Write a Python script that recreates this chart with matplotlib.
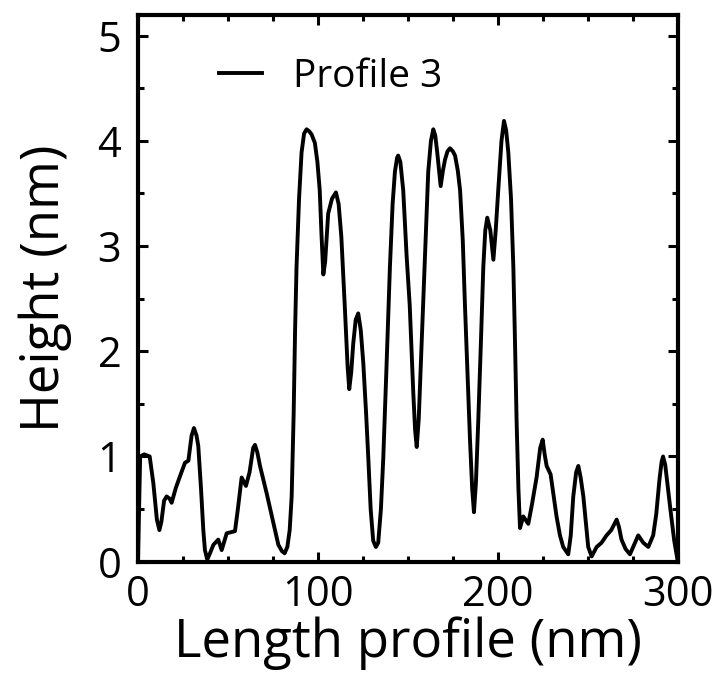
import matplotlib
matplotlib.use("Agg")
import matplotlib.pyplot as plt
from matplotlib.ticker import MultipleLocator

# AFM height profile traced along line 3
length_nm = [0.0, 1.2, 3.5, 6.5, 8.5, 10.5, 11.9, 13.0, 14.5, 15.9, 17.5, 18.7, 21.0,
             23.3, 26.1, 28.0, 29.8, 31.1, 32.5, 33.5, 35.0, 36.3, 37.2, 38.5, 40.0,
             41.9, 44.6, 46.5, 49.3, 53.9, 55.5, 57.6, 60.0, 62.0, 64.0, 65.0, 66.3,
             67.8, 71.5, 75.2, 78.0, 80.0, 81.5, 83.0, 84.3, 85.4, 86.5, 87.3, 88.1,
             89.5, 90.9, 92.3, 93.7, 95.2, 96.5, 98.3, 99.7, 101.0, 102.0, 103.0,
             104.0, 105.7, 107.8, 110.0, 111.5, 113.0, 115.0, 116.5, 117.4, 118.5,
             119.6, 121.0, 122.4, 123.8, 125.2, 126.8, 128.0, 129.3, 130.7, 132.2,
             133.5, 135.0, 136.3, 138.0, 140.0, 141.5, 142.8, 144.0, 144.6, 145.8,
             147.4, 149.3, 151.0, 153.0, 154.0, 154.9, 156.0, 157.6, 159.5, 161.3,
             162.8, 164.1, 165.2, 166.3, 168.2, 169.5, 170.6, 172.0, 173.4, 175.0,
             176.2, 177.7, 179.0, 180.5, 181.7, 183.2, 184.5, 185.7, 186.7, 187.8,
             189.1, 190.6, 191.9, 193.0, 194.1, 195.8, 197.5, 198.8, 200.2, 202.0,
             203.4, 204.6, 205.8, 207.3, 208.6, 209.5, 210.4, 211.4, 212.3, 214.1,
             216.9, 219.0, 221.5, 223.5, 224.9, 226.0, 227.1, 229.3, 231.0, 232.6,
             234.5, 236.3, 239.1, 240.5, 241.9, 243.5, 244.7, 246.0, 247.5, 249.0,
             250.2, 252.1, 254.9, 257.6, 260.4, 263.0, 266.0, 267.3, 268.7, 271.0,
             273.4, 276.2, 278.0, 280.8, 283.6, 286.3, 288.0, 289.8, 291.0, 291.8,
             293.0, 294.5, 296.0, 298.0, 300.0]
height_nm = [0.00, 1.00, 1.02, 1.00, 0.75, 0.40, 0.30, 0.38, 0.58, 0.62, 0.60, 0.56, 0.70,
             0.81, 0.94, 0.96, 1.20, 1.27, 1.20, 1.10, 0.70, 0.30, 0.11, 0.02, 0.08,
             0.16, 0.21, 0.11, 0.27, 0.29, 0.50, 0.80, 0.72, 0.85, 1.08, 1.11, 1.04,
             0.91, 0.65, 0.37, 0.16, 0.10, 0.08, 0.14, 0.30, 0.62, 1.40, 2.20, 2.80,
             3.45, 3.89, 4.07, 4.11, 4.09, 4.06, 3.98, 3.80, 3.53, 3.10, 2.73,
             2.85, 3.31, 3.45, 3.51, 3.40, 3.09, 2.40, 1.85, 1.64, 1.80,
             2.07, 2.30, 2.36, 2.20, 1.89, 1.40, 0.98, 0.50, 0.20, 0.14,
             0.18, 0.50, 0.98, 1.80, 2.80, 3.40, 3.71, 3.84, 3.86, 3.80,
             3.53, 2.90, 2.44, 1.60, 1.25, 1.09, 1.35, 2.07, 2.95, 3.71,
             4.00, 4.11, 4.05, 3.89, 3.57, 3.72, 3.82, 3.90, 3.93, 3.90,
             3.86, 3.72, 3.53, 3.05, 2.44, 1.75, 1.16, 0.70, 0.47, 0.75,
             1.34, 2.10, 2.80, 3.15, 3.27, 3.15, 2.87, 3.15, 3.53, 4.00,
             4.19, 4.10, 3.89, 3.45, 2.80, 2.10, 1.34, 0.70, 0.32, 0.43,
             0.36, 0.55, 0.80, 1.08, 1.16, 1.02, 0.91, 0.83, 0.62, 0.43,
             0.25, 0.14, 0.07, 0.25, 0.62, 0.85, 0.91, 0.80, 0.62, 0.35,
             0.14, 0.05, 0.14, 0.18, 0.25, 0.30, 0.40, 0.33, 0.21, 0.12,
             0.07, 0.18, 0.25, 0.18, 0.14, 0.25, 0.45, 0.78, 0.95, 1.00,
             0.92, 0.70, 0.48, 0.20, 0.00]

xticks = [0, 100, 200, 300]
yticks = [0, 1, 2, 3, 4, 5]

plt.rcParams["font.family"] = ["Open Sans", "DejaVu Sans"]

fig = plt.figure(figsize=(7.15, 6.96), dpi=100)
ax = fig.add_axes([0.193, 0.193, 0.755, 0.786])

ax.plot(length_nm, height_nm, color="black", linewidth=2.8,
        solid_joinstyle="round", label="Profile 3")

ax.set_xlim(0, 300)
ax.set_ylim(0, 5.2)
ax.set_xticks(xticks)
ax.set_yticks(yticks)
ax.xaxis.set_minor_locator(MultipleLocator(25))
ax.yaxis.set_minor_locator(MultipleLocator(0.5))
ax.tick_params(which="both", direction="in", top=True, right=True, width=2.2)
ax.tick_params(axis="x", labelsize=30, pad=9)
ax.tick_params(axis="y", labelsize=30, pad=12)
ax.tick_params(which="major", length=7)
ax.tick_params(which="minor", length=4)
for s in ax.spines.values():
    s.set_linewidth(3)

ax.set_xlabel("Length profile (nm)", fontsize=38, labelpad=0)
ax.set_ylabel("Height (nm)", fontsize=38, labelpad=18)

ax.legend(loc="upper left", frameon=False, fontsize=28,
          handlelength=1.1, handletextpad=0.8,
          bbox_to_anchor=(0.085, 0.985))

fig.savefig("out.png", dpi=100)
